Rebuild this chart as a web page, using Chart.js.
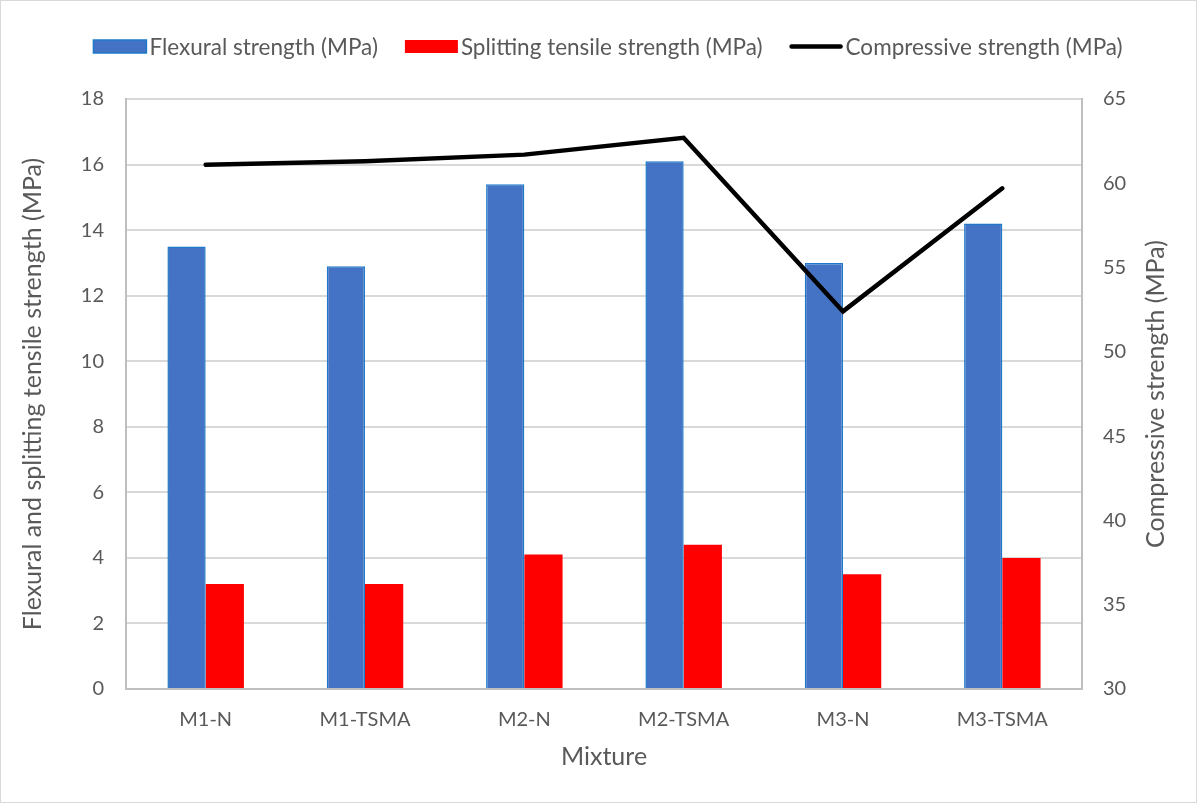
<!DOCTYPE html>
<html>
<head>
<meta charset="utf-8">
<script src="https://cdn.jsdelivr.net/npm/chart.js@4.4.0/dist/chart.umd.min.js"></script>
<style>
  body { margin: 0; background: #fff; }
  #wrap { position: relative; width: 1195px; height: 801px; border: 1px solid #D9D9D9; }
</style>
</head>
<body>
<div id="wrap"><canvas id="myChart"></canvas></div>
<script>
const ctx = document.getElementById("myChart");

// data
var mixtures = ["M1-N", "M1-TSMA", "M2-N", "M2-TSMA", "M3-N", "M3-TSMA"];
var flexural = [13.5, 12.9, 15.4, 16.1, 13.0, 14.2];
var splitting = [3.2, 3.2, 4.1, 4.4, 3.5, 4.0];
var compressive = [61.1, 61.3, 61.7, 62.7, 52.4, 59.7];

var textColor = "#595959";
var fontName = "Lato, 'Open Sans', sans-serif";

Chart.defaults.font.family = fontName;
Chart.defaults.color = textColor;

// legend drawn by hand (box close to the text) + right axis title read bottom-to-top
const extraText = {
  id: "extraText",
  afterDraw(chart) {
    const c = chart.ctx;
    const area = chart.chartArea;
    c.save();

    c.fillStyle = textColor;
    c.font = "25px " + fontName;
    c.textAlign = "center";
    c.textBaseline = "middle";
    c.translate(1155, (area.top + area.bottom) / 2);
    c.rotate(-Math.PI / 2);
    c.fillText("Compressive strength (MPa)", 0, 0);
    c.restore();

    c.save();
    c.font = "22.5px " + fontName;
    c.textBaseline = "middle";
    let items = legendOrder.map(i => chart.data.datasets[i]);
    let boxW = 53, gapText = 3, gapItem = 27, cy = 45.5;
    let total = 0;
    items.forEach((d, k) => {
      total += boxW + gapText + c.measureText(d.label).width;
      if (k < items.length - 1) total += gapItem;
    });
    let x = 607 - total / 2;
    items.forEach(d => {
      if (d.type === "line") {
        c.strokeStyle = d.borderColor;
        c.lineWidth = 4.5;
        c.lineCap = "round";
        c.beginPath();
        c.moveTo(x + 2, cy);
        c.lineTo(x + boxW - 2, cy);
        c.stroke();
      } else {
        c.fillStyle = d.backgroundColor;
        c.fillRect(x, cy - 6.5, boxW, 13);
        if (d.borderWidth) {
          c.strokeStyle = d.borderColor;
          c.lineWidth = d.borderWidth;
          c.strokeRect(x, cy - 6.5, boxW, 13);
        }
      }
      x += boxW + gapText;
      c.fillStyle = textColor;
      c.fillText(d.label, x, cy + 1);
      x += c.measureText(d.label).width + gapItem;
    });
    c.restore();
  }
};

var legendOrder = [1, 2, 0];

var config = {
  type: "bar",
  data: {
    labels: mixtures,
    datasets: [
      {
        type: "line",
        label: "Compressive strength (MPa)",
        data: compressive,
        yAxisID: "y2",
        borderColor: "#000000",
        backgroundColor: "#000000",
        borderWidth: 4.5,
        borderCapStyle: "round",
        borderJoinStyle: "miter",
        pointRadius: 0,
        pointHoverRadius: 0,
        tension: 0,
        order: 0
      },
      {
        label: "Flexural strength (MPa)",
        data: flexural,
        yAxisID: "y",
        backgroundColor: "#4472C4",
        borderColor: "#1F78C8",
        borderWidth: 1.5,
        order: 1
      },
      {
        label: "Splitting tensile strength (MPa)",
        data: splitting,
        yAxisID: "y",
        backgroundColor: "#FF0000",
        borderColor: "#FF0000",
        borderWidth: 0,
        order: 1
      }
    ]
  },
  options: {
    responsive: true,
    maintainAspectRatio: false,
    animation: false,
    layout: { padding: { left: 0, right: 0, top: 98, bottom: 0 } },
    datasets: {
      bar: { barPercentage: 1.0, categoryPercentage: 0.48, grouped: true }
    },
    scales: {
      x: {
        grid: { display: false, drawTicks: false },
        border: { color: "#BFBFBF", width: 2 },
        ticks: { font: { size: 20 }, color: textColor, padding: 19 },
        title: { display: true, text: "Mixture", font: { size: 25 }, color: textColor, padding: { top: 0, bottom: 30 } },
        afterFit: (scale) => { scale.height = 113; }
      },
      y: {
        position: "left",
        min: 0,
        max: 18,
        ticks: { stepSize: 2, font: { size: 20 }, color: textColor, padding: 22 },
        grid: { color: "#D9D9D9", lineWidth: 2, drawTicks: false },
        border: { color: "#BFBFBF", width: 2 },
        title: { display: true, text: "Flexural and splitting tensile strength (MPa)", font: { size: 25 }, color: textColor, padding: { top: 17, bottom: 0 } },
        afterFit: (scale) => { scale.width = 125; }
      },
      y2: {
        position: "right",
        min: 30,
        max: 65,
        ticks: { stepSize: 5, font: { size: 20 }, color: textColor, padding: 21 },
        grid: { display: false, drawTicks: false },
        border: { color: "#BFBFBF", width: 2 },
        afterFit: (scale) => { scale.width = 114; }
      }
    },
    plugins: {
      tooltip: { enabled: false },
      legend: { display: false }
    }
  },
  plugins: [extraText]
};

var chart = new Chart(ctx, config);
</script>
</body>
</html>
